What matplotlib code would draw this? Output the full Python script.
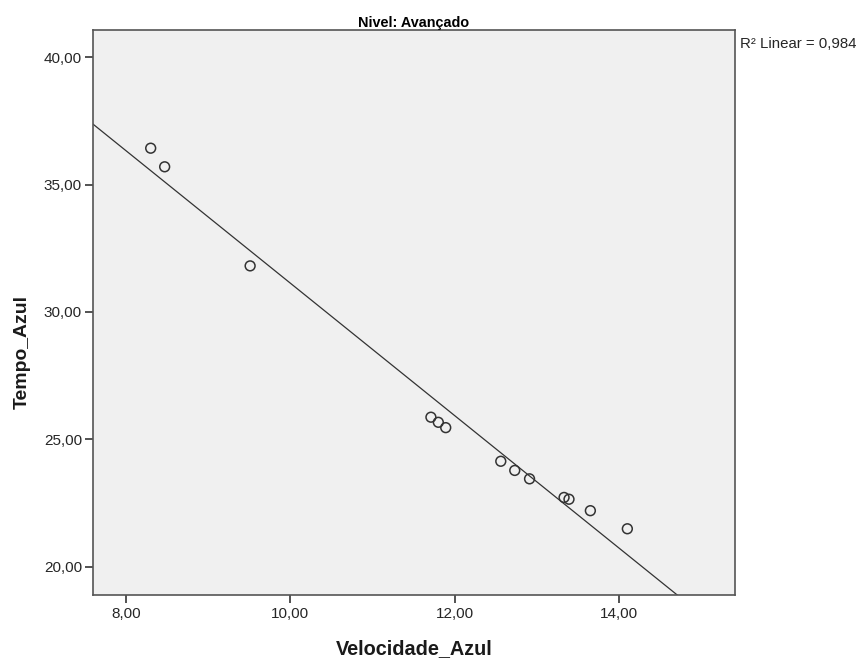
import matplotlib
matplotlib.use("Agg")
import matplotlib.pyplot as plt
import numpy as np
from matplotlib import font_manager
from matplotlib.ticker import FuncFormatter

# Nivel avançado: velocidade x tempo (azul)
velocidade_azul = [8.30, 8.47, 9.51, 11.71, 11.80, 11.89, 12.56, 12.73, 12.91,
                   13.33, 13.39, 13.65, 14.10]
tempo_azul = [36.43, 35.70, 31.81, 25.87, 25.67, 25.46, 24.14, 23.78, 23.45,
              22.72, 22.65, 22.20, 21.49]
r2_linear = "0,984"
x_ticks = [8, 10, 12, 14]
y_ticks = [20, 25, 30, 35, 40]

# SPSS-like condensed font, fall back to regular Arial metrics
names = {f.name for f in font_manager.fontManager.ttflist}
if "Liberation Sans Narrow" in names:
    family = ["Liberation Sans Narrow", "Liberation Sans", "DejaVu Sans"]
    k = 1.0
else:
    family = ["Liberation Sans", "DejaVu Sans"]
    k = 0.82
plt.rcParams["font.family"] = family

fig = plt.figure(figsize=(8.62, 6.62), dpi=100)
ax = fig.add_axes([93 / 862, 1 - 595 / 662, 642 / 862, 565 / 662])
ax.set_facecolor("#f0f0f0")

ax.set_xlim(7.598, 15.41)
ax.set_ylim(18.89, 41.07)

# linear fit line
slope, intercept = np.polyfit(velocidade_azul, tempo_azul, 1)
xs = np.array(ax.get_xlim())
ax.plot(xs, slope * xs + intercept, color="#333333", lw=0.9, zorder=2)

ax.scatter(velocidade_azul, tempo_azul, s=50, facecolors="none",
           edgecolors="#333333", linewidths=1.1, zorder=3)

comma = FuncFormatter(lambda v, p: f"{v:.2f}".replace(".", ","))
ax.set_xticks(x_ticks)
ax.set_yticks(y_ticks)
ax.xaxis.set_major_formatter(comma)
ax.yaxis.set_major_formatter(comma)
ax.tick_params(direction="out", length=6, width=1.3, color="#444444",
               labelsize=13.4 * k, labelcolor="#262626")
ax.tick_params(axis="x", pad=3)
ax.tick_params(axis="y", pad=2)

for sp in ax.spines.values():
    sp.set_color("#555555")
    sp.set_linewidth(1.2)

ax.set_title("Nivel: Avançado", fontsize=12.6 * k, fontweight="bold", pad=2.2)
ax.set_xlabel("Velocidade_Azul", fontsize=17.4 * k, fontweight="bold",
              color="#1a1a1a")
ax.xaxis.set_label_coords(0.5, -0.105)
ax.xaxis.label.set_va("baseline")
ax.set_ylabel("Tempo_Azul", fontsize=17 * k, fontweight="bold",
              color="#1a1a1a")
ax.yaxis.set_label_coords(-0.097, 0.43)

fig.text(740 / 862, 1 - 48 / 662, "R² Linear = " + r2_linear,
         fontsize=13.2 * k, va="baseline", ha="left", color="#262626")

fig.savefig("out.png", dpi=100, facecolor="white")
